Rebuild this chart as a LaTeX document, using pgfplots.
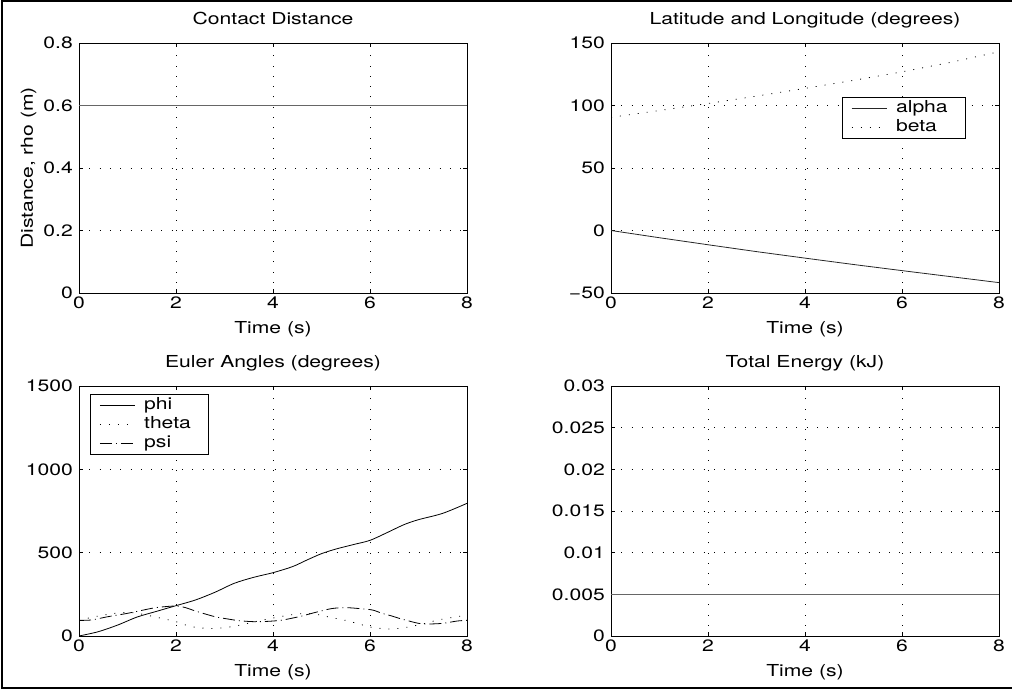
\documentclass[border=0pt]{standalone}
\usepackage{fontspec}
\setmainfont{TeX Gyre Heros}[FakeStretch=1.28]
\usepackage{pgfplots}
\pgfplotsset{compat=1.18}
\newcommand{\mf}{\fontsize{16.5bp}{19bp}\selectfont}
\pgfplotsset{
 mstyle/.style={
  scale only axis, width=388bp, height=250bp,
  xmin=0, xmax=8, xtick={0,2,4,6,8}, xticklabels={0,2,4,6,8},
  grid=major,
  grid style={line width=0.6bp, black, dash pattern=on 0.8bp off 9.5bp},
  axis line style={line width=0.8bp},
  tick align=inside, major tick length=4bp, tick style={line width=0.6bp, black},
  xticklabel style={font=\mf, inner sep=0pt, yshift=-4bp},
  yticklabel style={font=\mf, inner sep=0pt, xshift=-6bp},
  xlabel={Time (s)},
  xlabel style={font=\mf, at={(axis description cs:0.5,-0.114)}, anchor=north, inner sep=0pt},
  ylabel style={font=\mf, at={(axis description cs:-0.1186,0.5)}, anchor=base, inner sep=0pt},
  title style={font=\mf, at={(axis description cs:0.5,1.052)}, anchor=base, inner sep=0pt},
  scaled ticks=false,
  legend cell align=left,
  legend style={draw=black, line width=0.8bp, font=\mf, fill=white,
    inner xsep=9bp, inner ysep=1.5bp, row sep=0pt,
    nodes={inner ysep=2bp, inner xsep=9bp, text height=11.5bp, text depth=3.5bp}},
  legend image code/.code={\draw[##1, line width=0.8bp] (0bp,0bp) -- (35bp,0bp);},
 },
}
\begin{document}
\begin{tikzpicture}
\useasboundingbox (0,0) rectangle (1012bp,694bp);
\draw[line width=2bp, black] (2bp,5.7bp) rectangle (1014bp,693bp);

% Contact Distance
\begin{axis}[mstyle, at={(79bp,401bp)}, anchor=south west,
  ymin=0, ymax=0.8, ytick={0,0.2,0.4,0.6,0.8}, yticklabels={0,0.2,0.4,0.6,0.8},
  title={Contact Distance}, ylabel={Distance, rho (m)}]
\addplot[black!60, line width=1.4bp] coordinates {(0,0.6) (8,0.6)};
\end{axis}

% Latitude and Longitude
\begin{axis}[mstyle, at={(611bp,401bp)}, anchor=south west,
  ymin=-50, ymax=150, ytick={-50,0,50,100,150}, yticklabels={−50,0,50,100,150},
  title={Latitude and Longitude (degrees)},
  legend style={at={(axis description cs:0.595,0.784)}, anchor=north west}]
\addplot[black!85, line width=0.8bp] coordinates {(0,0) (1,-5.8) (2,-11.4) (3,-16.9) (4,-22.1) (5,-27.2) (6,-32.1) (7,-36.9) (8,-41.7)};
\addlegendentry{alpha}
\addplot[black, line width=0.8bp, dash pattern=on 1bp off 8bp] coordinates {(0,90.5) (1,96) (2,101.6) (3,107.5) (4,113.7) (5,120.1) (6,126.9) (7,134.5) (8,143)};
\addlegendentry{beta}
\end{axis}

% Euler Angles
\begin{axis}[mstyle, at={(79bp,58bp)}, anchor=south west,
  ymin=0, ymax=1500, ytick={0,500,1000,1500}, yticklabels={0,500,1000,1500},
  title={Euler Angles (degrees)},
  legend style={at={(axis description cs:0.0284,0.968)}, anchor=north west}]
\addplot[black, line width=0.8bp, smooth] coordinates {(0,0) (0.4,26) (0.8,66) (1.2,114) (1.6,148) (2.0,182) (2.4,216) (2.8,262) (3.2,316) (3.6,352) (4.0,380) (4.4,416) (4.7,456) (5.0,494) (5.3,522) (5.65,548) (6.0,574) (6.35,620) (6.7,668) (7.0,698) (7.5,736) (8.0,796)};
\addlegendentry{phi}
\addplot[black, line width=0.8bp, smooth, dash pattern=on 1bp off 8bp] coordinates {(0,95) (0.4,120) (0.8,138) (1.1,140) (1.4,125) (1.7,106) (2.0,86) (2.2,66) (2.4,52) (2.7,45) (3.0,50) (3.3,64) (3.6,84) (4.0,108) (4.4,128) (4.7,135) (5.0,125) (5.2,110) (5.4,100) (5.6,86) (5.8,70) (6.0,54) (6.2,46) (6.45,42) (6.7,50) (6.9,60) (7.2,80) (7.4,96) (7.8,116) (8.0,126)};
\addlegendentry{theta}
\addplot[black, line width=0.8bp, smooth, dash pattern=on 12bp off 4bp on 1bp off 4bp] coordinates {(0,94) (0.25,96) (0.6,116) (1.0,136) (1.5,166) (1.7,174) (2.0,180) (2.2,170) (2.4,150) (2.8,116) (3.07,102) (3.3,92) (3.6,86) (3.9,88) (4.2,96) (4.6,120) (4.8,136) (5.2,164) (5.5,170) (5.8,164) (6.05,156) (6.25,136) (6.45,120) (6.65,102) (7.0,76) (7.2,72) (7.5,76) (7.8,90) (8.0,94)};
\addlegendentry{psi}
\end{axis}

% Total Energy
\begin{axis}[mstyle, at={(611bp,58bp)}, anchor=south west,
  ymin=0, ymax=0.03, ytick={0,0.005,0.01,0.015,0.02,0.025,0.03},
  yticklabels={0,0.005,0.01,0.015,0.02,0.025,0.03},
  title={Total Energy (kJ)}]
\addplot[black!60, line width=1.4bp] coordinates {(0,0.00495) (8,0.00495)};
\end{axis}
\end{tikzpicture}
\end{document}
